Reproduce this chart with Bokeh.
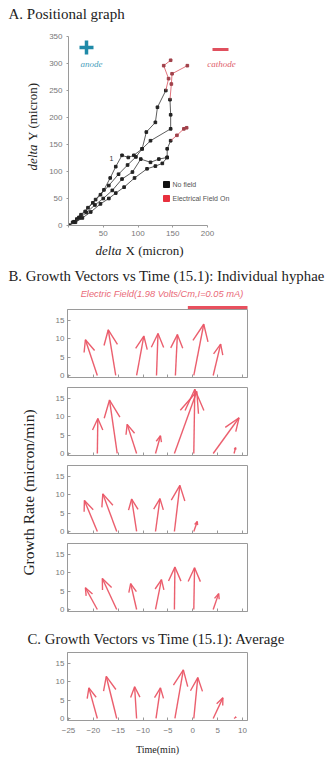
import numpy as np
from bokeh.plotting import figure
from bokeh.layouts import column, row
from bokeh.models import Range1d, FixedTicker
from bokeh.embed import file_html
from bokeh.resources import INLINE
from bokeh.core.properties import value

SERIF = "Liberation Serif"
SANS = "Liberation Sans"
ARROW = "#ea5666"
TICKC = "#777777"
AXC = "#9a9a9a"
INK = "#222222"

# ---------------- A. Positional graph (micron) ----------------
pos_x_ticks = [0, 50, 100, 150, 200]
pos_y_ticks = [0, 50, 100, 150, 200, 250, 300, 350]

h1_x = [0, 6, 12, 18, 28, 39, 51, 60, 68, 77, 86, 94, 106, 112, 125, 128, 140]
h1_y = [0, 6, 12, 20, 33, 48, 66, 88, 109, 130, 126, 130, 142, 173, 191, 219, 250]
h1_on_x = [140, 144, 137, 147]
h1_on_y = [250, 272, 296, 306]

h2_x = [0, 8, 15, 24, 35, 46, 58, 72, 85, 97, 106, 118, 147, 147, 146]
h2_y = [0, 7, 15, 26, 42, 57, 74, 95, 112, 127, 142, 157, 179, 205, 233]
h2_on_x = [146, 148, 149, 171]
h2_on_y = [233, 262, 281, 296]

h3_x = [0, 8, 16, 26, 38, 50, 63, 77, 92, 104, 118, 130, 142, 142, 147]
h3_y = [0, 6, 14, 24, 38, 50, 65, 86, 99, 123, 117, 123, 126, 142, 157]
h3_on_x = [147, 156, 166, 170]
h3_on_y = [157, 167, 179, 181]

h4_x = [0, 10, 20, 32, 46, 58, 68, 80, 95, 113, 125, 135, 142]
h4_y = [0, 6, 14, 25, 40, 50, 60, 71, 88, 105, 110, 115, 126]

# ---------------- B / C. Growth vectors ----------------
time_ticks = [-25, -20, -15, -10, -5, 0, 5, 10]
rate_ticks = [0, 5, 10, 15]
field_on = [-1.0, 11.0]

g1_t0 = [-19.2, -15.5, -11.3, -7.3, -3.5, 0.2, 4.1]
g1_t1 = [-21.6, -17.0, -9.85, -7.0, -3.1, 2.2, 5.6]
g1_r = [9.7, 12.4, 10.7, 11.4, 11.1, 13.9, 8.5]

g2_t0 = [-19.2, -15.2, -11.3, -7.5, -3.7, 0.2, 4.1, 8.3]
g2_t1 = [-19.1, -16.75, -13.2, -6.5, 0.8, 0.4, 9.3, 8.6]
g2_r = [9.5, 14.5, 7.9, 4.8, 16.8, 17.4, 9.7, 1.6]

g3_t0 = [-19.2, -15.3, -11.3, -7.5, -3.7, 0.2]
g3_t1 = [-21.8, -18.1, -12.3, -6.6, -2.6, 0.9]
g3_r = [8.4, 10.2, 8.8, 8.9, 12.5, 2.7]

g4_t0 = [-19.2, -15.3, -11.3, -7.5, -3.7, 0.2, 4.1]
g4_t1 = [-21.6, -18.2, -12.5, -6.3, -3.6, 0.35, 5.2]
g4_r = [5.9, 8.4, 7.0, 8.1, 11.5, 11.3, 4.3]

av_t0 = [-19.2, -15.3, -11.3, -7.4, -3.6, 0.2, 4.1, 8.3]
av_t1 = [-20.9, -17.4, -11.7, -6.5, -1.9, 1.0, 6.05, 8.7]
av_r = [8.3, 11.4, 8.6, 8.3, 13.2, 11.1, 5.6, 0.4]

XR = (-25.2, 11.0)
YR = (-0.55, 17.9)


def make_map(left, top, fw, fh, xr, yr):
    def f(cx, cy):
        x = xr[0] + (cx - left) / fw * (xr[1] - xr[0])
        y = yr[0] + (top + fh - cy) / fh * (yr[1] - yr[0])
        return x, y
    return f


def base_fig(W, H, left, top, right, bottom, xr, yr):
    p = figure(width=W, height=H, x_range=Range1d(*xr), y_range=Range1d(*yr),
               output_backend="svg", toolbar_location=None,
               min_border_left=left, min_border_right=right,
               min_border_top=top, min_border_bottom=bottom)
    p.grid.visible = False
    return p


def bare(p):
    p.axis.visible = False
    p.outline_line_color = None
    return p


def put(p, x, y, text, size, color=INK, font=SERIF, style="normal",
        align="left", angle=0.0):
    p.text([x], [y], text=[text], text_font=value(font), text_font_size=value(f"{size}px"),
           text_color=color, text_font_style=style, text_align=align,
           text_baseline="middle", angle=angle)


def text_fig(W, H):
    return bare(base_fig(W, H, 0, 0, 0, 0, (0, W), (0, H)))


def style_axes(p):
    p.axis.axis_line_color = AXC
    p.axis.major_tick_line_color = AXC
    p.axis.minor_tick_line_color = None
    p.axis.major_label_text_font = SANS
    p.axis.major_label_text_font_size = "8px"
    p.axis.major_label_text_color = TICKC


# ---------- title A ----------
tA_H = 24
tA = text_fig(332, tA_H)
put(tA, 8, tA_H - 13, "A. Positional graph", 15)

# ---------- Figure A ----------
YL_W = 44
A_Y0 = tA_H
A_W, A_H, A_L, A_T, A_R, A_B = 332 - YL_W, 216, 24, 12, 10, 15
A_FW, A_FH = A_W - A_L - A_R, A_H - A_T - A_B
A_XR = (0, A_FW / 0.695)
A_YR = (0, A_FH / 0.54)
pa = base_fig(A_W, A_H, A_L, A_T, A_R, A_B, A_XR, A_YR)
_mA = make_map(A_L, A_T, A_FW, A_FH, A_XR, A_YR)


def mA(gx, gy):
    return _mA(gx - YL_W, gy - A_Y0)


pa.outline_line_color = None
style_axes(pa)
pa.xaxis.ticker = FixedTicker(ticks=pos_x_ticks)
pa.xaxis.major_label_overrides = {0: ""}
pa.yaxis.ticker = FixedTicker(ticks=pos_y_ticks)
pa.xaxis.bounds = (0, 200)
pa.yaxis.bounds = (0, 350)
pa.axis.major_tick_in = 0
pa.axis.major_tick_out = 2
pa.xaxis.major_label_standoff = 3
pa.yaxis.major_label_standoff = 4

BLACK = "#222222"
RED = "#d9505c"
for xs, ys in [(h1_x, h1_y), (h2_x, h2_y), (h3_x, h3_y), (h4_x, h4_y)]:
    pa.line(xs, ys, line_color="#333333", line_width=0.8)
    pa.scatter(xs, ys, marker="square", size=2.6, color=BLACK)
for xs, ys in [(h1_on_x, h1_on_y), (h2_on_x, h2_on_y), (h3_on_x, h3_on_y)]:
    pa.line(xs, ys, line_color=RED, line_width=0.8)
    pa.scatter(xs[1:], ys[1:], marker="square", size=2.6, color="#a0404a")

ax_, ay_ = mA(86, 47)
pa.scatter([ax_], [ay_], marker="cross", size=14, line_width=3.5, line_color="#1f8aa8")
cx_, cy_ = mA(220, 49)
pa.scatter([cx_], [cy_], marker="dash", size=16, line_width=3, line_color="#e0505e")
x_, y_ = mA(91, 63)
put(pa, x_, y_, "anode", 9, color="#4aa0bb", style="italic", align="center")
x_, y_ = mA(221, 63)
put(pa, x_, y_, "cathode", 9, color="#e0606c", style="italic", align="center")
x_, y_ = mA(111, 158)
put(pa, x_, y_, "1", 7, color="#333333", font=SANS, align="center")
lx1, ly1 = mA(166, 184)
lx2, ly2 = mA(166, 198)
pa.scatter([lx1], [ly1], marker="square", size=6, color="#111111")
pa.scatter([lx2], [ly2], marker="square", size=6, color="#e8303e")
x_, y_ = mA(172, 184)
put(pa, x_, y_, "No field", 7, color="#555555", font=SANS)
x_, y_ = mA(172, 198)
put(pa, x_, y_, "Electrical Field On", 7, color="#555555", font=SANS)

# y label of A
yA = text_fig(YL_W, A_H)
put(yA, 32, A_H - (177 - A_Y0), "delta", 13, style="italic", angle=np.pi / 2)
put(yA, 32, A_H - (143 - A_Y0), "Y (micron)", 13, angle=np.pi / 2)

# x label of A (frame aligned with the panels below: 67..247)
xA_Y0 = A_Y0 + A_H
xA_H = 258 - xA_Y0
xA = bare(base_fig(332, xA_H, 67, 0, 85, 0, (67, 247), (0, xA_H)))
put(xA, 95, xA_H - (250 - xA_Y0), "delta", 13, style="italic")
put(xA, 125, xA_H - (250 - xA_Y0), "X (micron)", 13)

# ---------- Header of B ----------
H_Y0 = 258
H_H = 51
k = 180 / (XR[1] - XR[0])
HXR = (XR[0] - 67 / k, XR[1] + 85 / k)
ph = bare(base_fig(332, H_H, 0, 0, 0, 0, HXR, (0, H_H)))


def mH(gx, gy):
    return HXR[0] + gx / k, H_H - (gy - H_Y0)


_, by = mH(0, 307)
ph.segment([field_on[0]], [by], [field_on[1]], [by], line_color="#e8505e", line_width=3)
ex, ey = mH(161.5, 293)
put(ph, ex, ey, "Electric Field(1.98 Volts/Cm,I=0.05 mA)", 9.3, color="#ea6a78",
    font=SANS, style="italic", align="center")
tx_, ty_ = mH(8, 275)
put(ph, tx_, ty_, "B. Growth Vectors vs Time (15.1): Individual hyphae", 14.8)


def quiver(p, t0, t1, r):
    b = np.asarray(t0, float)
    tx = np.asarray(t1, float)
    ty = np.asarray(r, float)
    u = tx - b
    v = ty
    a, be = 0.33, 0.33
    p.segment(b, np.zeros_like(b), tx, ty, line_color=ARROW, line_width=1.4, line_alpha=0.95)
    xs = [[x - a * (uu + be * vv), x, x - a * (uu - be * vv)] for x, uu, vv in zip(tx, u, v)]
    ys = [[y - a * (vv - be * uu), y, y - a * (vv + be * uu)] for y, uu, vv in zip(ty, u, v)]
    p.multi_line(xs, ys, line_color=ARROW, line_width=1.4, line_alpha=0.95)


def style_panel(p, show_x):
    p.outline_line_color = AXC
    style_axes(p)
    p.xaxis.ticker = FixedTicker(ticks=time_ticks)
    p.yaxis.ticker = FixedTicker(ticks=rate_ticks)
    p.axis.major_tick_in = 3
    p.axis.major_tick_out = 0
    p.yaxis.major_label_standoff = 3
    if show_x:
        p.xaxis.major_label_standoff = 7
    else:
        p.xaxis.major_label_overrides = {t: "" for t in time_ticks}
        p.xaxis.major_label_standoff = 0
        p.xaxis.major_label_text_font_size = "6px"


# ---------- Panels B ----------
Y_W = 40
P_W, P_H, P_L, P_R, P_T, P_B = 332 - Y_W, 78, 27, 85, 0, 10
panels = []
for t0, t1, r in [(g1_t0, g1_t1, g1_r), (g2_t0, g2_t1, g2_r),
                  (g3_t0, g3_t1, g3_r), (g4_t0, g4_t1, g4_r)]:
    p = base_fig(P_W, P_H, P_L, P_T, P_R, P_B, XR, YR)
    style_panel(p, False)
    quiver(p, t0, t1, r)
    panels.append(p)

B_Y0 = H_Y0 + H_H
Y_H = 4 * P_H
py = text_fig(Y_W, Y_H)
put(py, 28, Y_H - (492 - B_Y0), "Growth Rate (micron/min)", 15.5, align="center",
    angle=np.pi / 2)

# ---------- title C ----------
tC_Y0 = B_Y0 + Y_H
tC_H = 27
tC = text_fig(332, tC_H)
put(tC, 27, tC_H - (638 - tC_Y0), "C. Growth Vectors vs Time (15.1): Average", 14.8)

# ---------- Panel C ----------
C_Y0 = tC_Y0 + tC_H
C_H = 764 - C_Y0
C_T = 652 - C_Y0
C_B = C_H - C_T - 68
pc = base_fig(332, C_H, 67, C_T, 85, C_B, XR, YR)
style_panel(pc, True)
quiver(pc, av_t0, av_t1, av_r)
pc.xaxis.axis_label = "Time(min)"
pc.xaxis.axis_label_text_font = SERIF
pc.xaxis.axis_label_text_font_style = "normal"
pc.xaxis.axis_label_text_font_size = "10px"
pc.xaxis.axis_label_text_color = INK
pc.xaxis.axis_label_standoff = 8

layout = column(row(tA), row(yA, pa), xA, row(ph), row(py, column(*panels)), row(tC), pc)

with open("out.html", "w") as f:
    f.write(file_html(layout, INLINE))
